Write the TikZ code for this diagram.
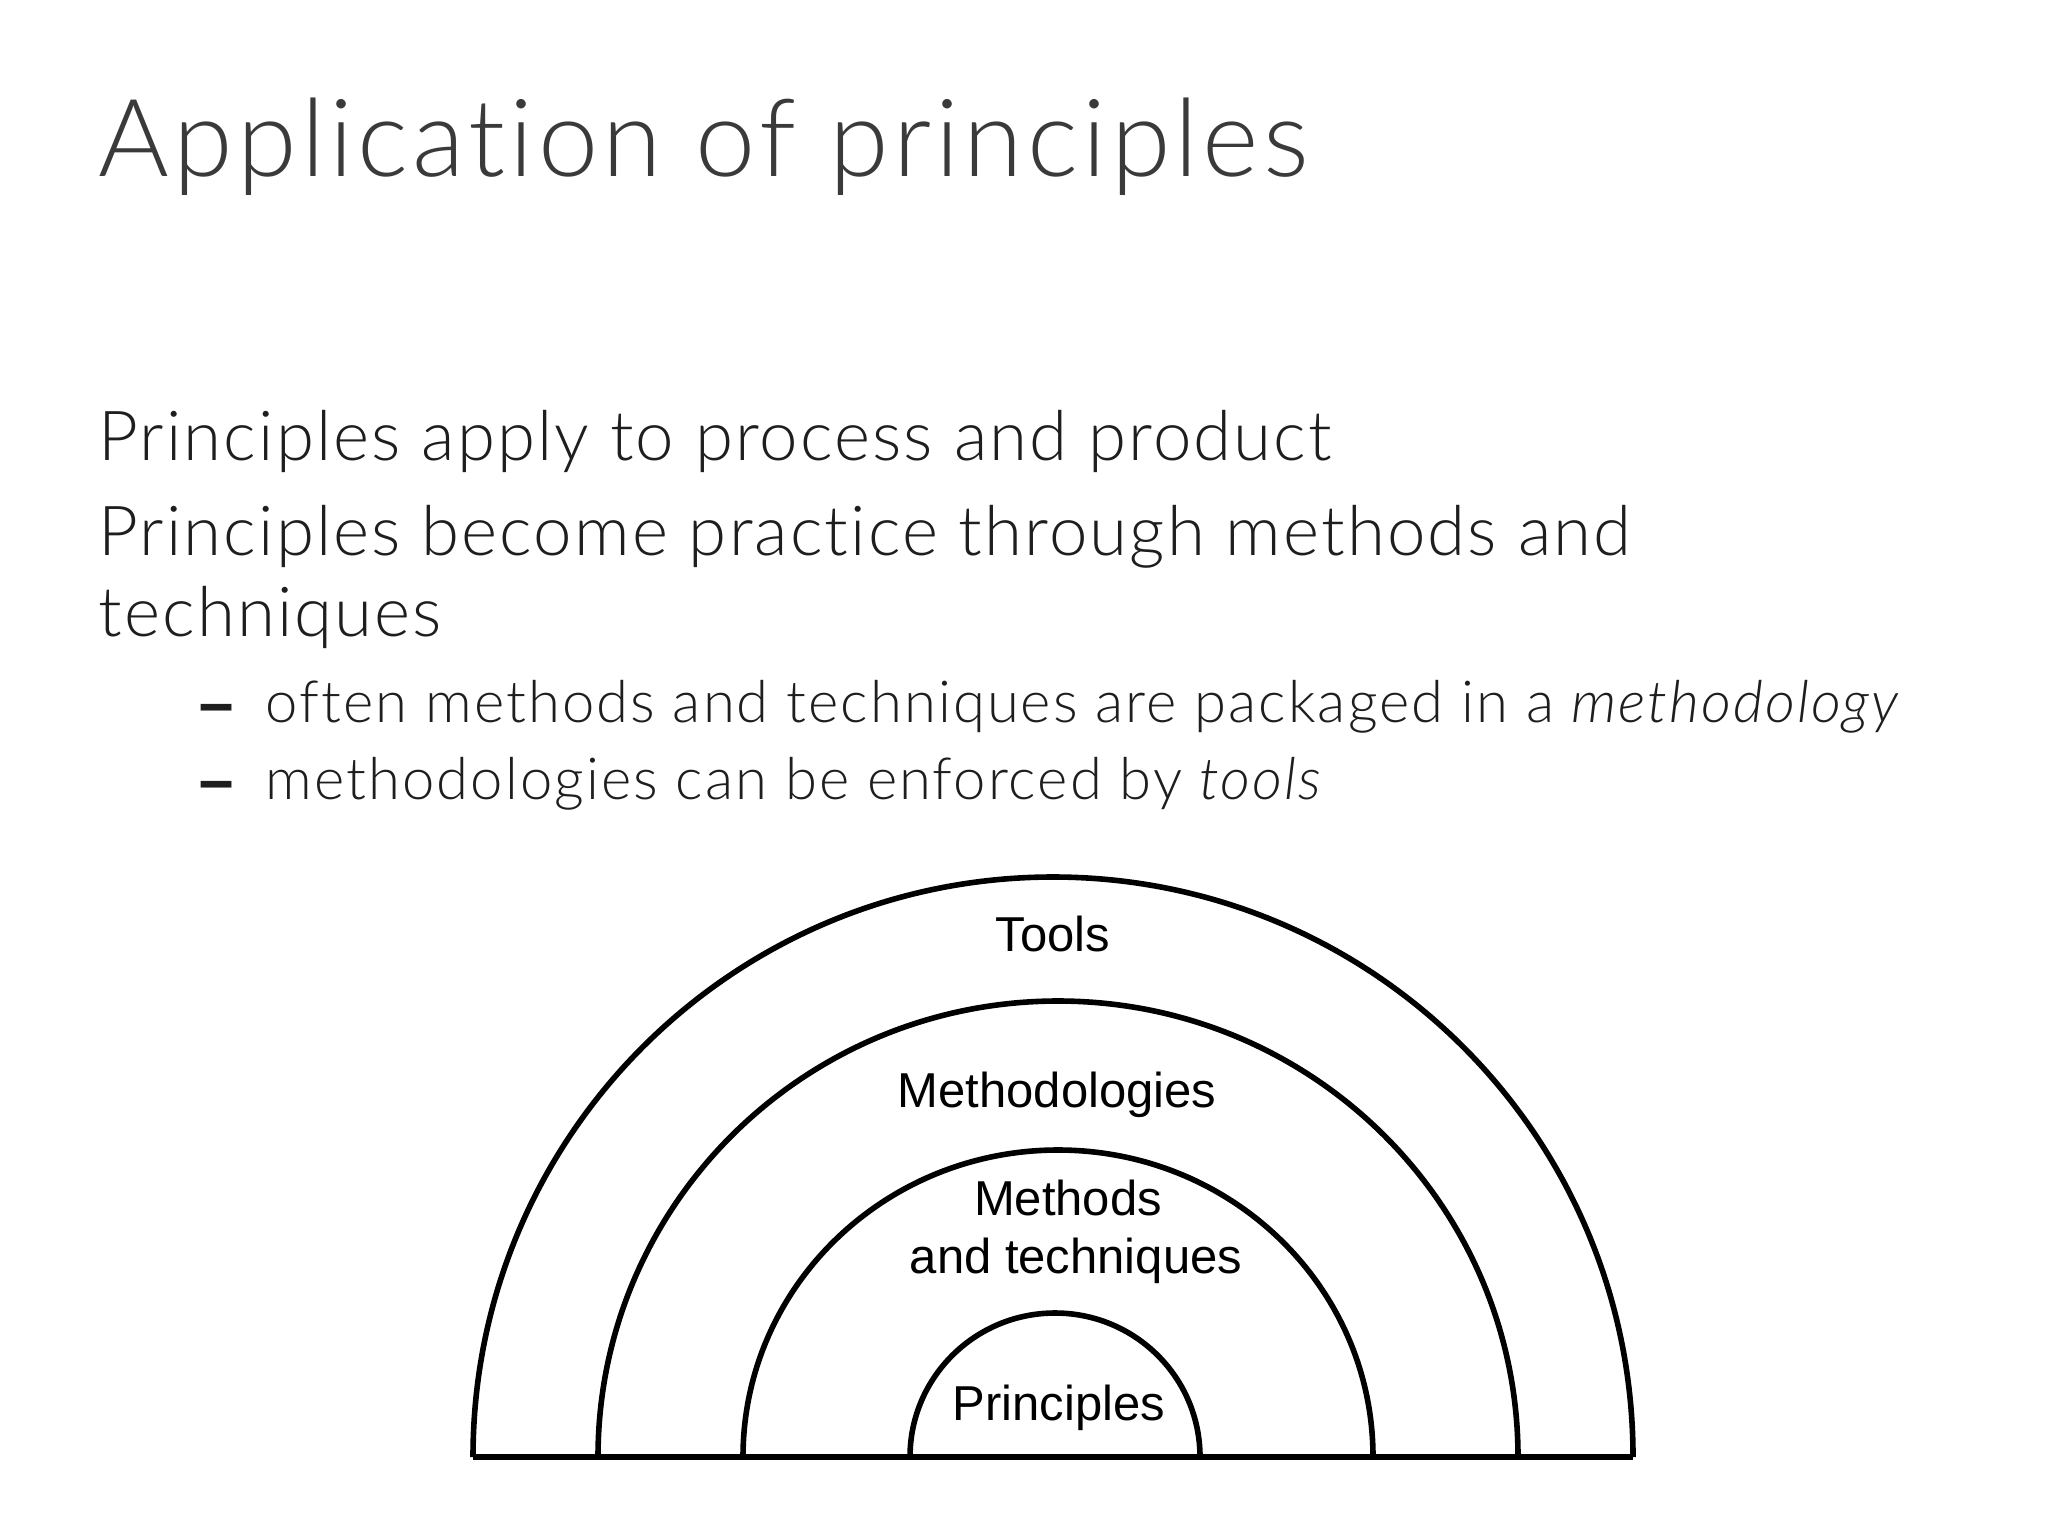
\documentclass[tikz,border=0pt]{standalone}
\usepackage{fontspec}
\setmainfont{Lato Light}[ItalicFont={Lato Light Italic}, Ligatures=NoCommon]
\newfontfamily\labelfont{Liberation Sans}
\newfontfamily\dashfont{Lato}
\definecolor{titlegray}{HTML}{3A3A3A}
\definecolor{bodygray}{HTML}{1E1E1E}

\tikzset{every picture/.style={line width=2.8pt}}
\tikzset{
  titletext/.style={anchor=base west, inner sep=0pt, text=titlegray, font=\addfontfeature{LetterSpace=3.9}\fontsize{54}{60}\selectfont},
  bodytext/.style={anchor=base west, inner sep=0pt, text=bodygray, font=\addfontfeature{LetterSpace=3.0}\fontsize{34.5}{40}\selectfont},
  subtext/.style={anchor=base west, inner sep=0pt, text=bodygray, font=\addfontfeature{LetterSpace=3.5}\fontsize{29}{34}\selectfont},
  dashtext/.style={anchor=base west, inner sep=0pt, text=bodygray, font=\dashfont\bfseries\fontsize{38}{40}\selectfont},
  ringlabel/.style={anchor=base, inner sep=0pt, font=\labelfont\fontsize{24.5}{28}\selectfont},
  ring/.style={line width=2.8pt, line join=round}
}

\begin{document}
\begin{tikzpicture}[x=0.5pt,y=0.5pt,yscale=-1,xscale=1]
		\useasboundingbox (0,0) rectangle (2048,1536);
		
		%Title
		\node (title) at (96,176) [titletext] {Application of principles};
		
		%Bullet text
		\node (lineA) at (96,460) [bodytext] {Principles apply to process and product};
		\node (lineB) at (96,555) [bodytext] {Principles become practice through methods and};
		\node (lineC) at (96,636) [bodytext] {techniques};
		\node (dashA) at (192,730) [dashtext] {–};
		\node (subA) at (263,722) [subtext] {often methods and techniques are packaged in a \emph{methodology}};
		\node (dashB) at (192,807) [dashtext] {–};
		\node (subB) at (263,799) [subtext] {methodologies can be enforced by \emph{tools}};
		
		%Baseline of the rings
		\coordinate (baseL) at (473,1457);
		\coordinate (baseR) at (1633,1457);
		\draw [ring] (baseL) -- (baseR) ;
		
		%Rings
		\draw [ring] (473,1457) arc [start angle=180, end angle=360, x radius=580, y radius=580] ;
		\draw [ring] (598,1457) arc [start angle=180, end angle=360, x radius=460, y radius=456] ;
		\draw [ring] (743,1457) arc [start angle=180, end angle=360, x radius=315, y radius=307] ;
		\draw [ring] (910,1457) arc [start angle=180, end angle=360, x radius=145, y radius=144] ;
		
		%Ring labels
		\node (tools) at (1053,951) [ringlabel] {Tools};
		\node (methodologies) at (1057,1107) [ringlabel] {Methodologies};
		\node (methods) at (1068,1215) [ringlabel] {Methods};
		\node (andtech) at (1076,1273) [ringlabel] {and techniques};
		\node (principles) at (1059,1420) [ringlabel] {Principles};
		
	\end{tikzpicture}
\end{document}
